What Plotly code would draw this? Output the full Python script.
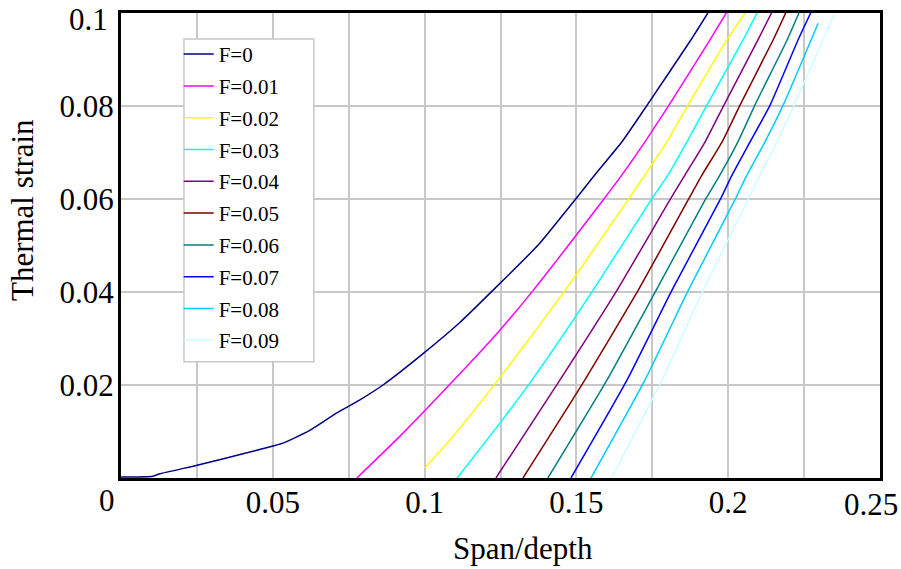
import plotly.graph_objects as go

labels = ["F=0", "F=0.01", "F=0.02", "F=0.03", "F=0.04", "F=0.05", "F=0.06", "F=0.07", "F=0.08", "F=0.09"]
colors = ["#000080", "#FF00FF", "#FFFF00", "#00FFFF", "#800080", "#800000", "#008080", "#0000FF", "#00CCFF", "#CCFFFF"]

f00_x = [0, 0.0013, 0.0105, 0.0128, 0.0254, 0.0402, 0.0501, 0.0534, 0.0623, 0.0711, 0.0787, 0.0863, 0.0998, 0.1117, 0.1224, 0.1374, 0.1495, 0.1561, 0.1650, 0.1733, 0.1877, 0.1933]
f00_y = [0.0002, 0.0002, 0.0004, 0.0009, 0.0028, 0.0052, 0.0069, 0.0075, 0.0103, 0.0140, 0.0168, 0.0200, 0.0269, 0.0335, 0.0403, 0.0501, 0.0598, 0.0652, 0.0723, 0.0802, 0.0942, 0.1000]
f01_x = [0.0777, 0.0919, 0.1084, 0.1248, 0.1357, 0.1588, 0.1650, 0.1726, 0.1805, 0.1940, 0.1999]
f01_y = [0.0, 0.0090, 0.0202, 0.0318, 0.0403, 0.0598, 0.0652, 0.0723, 0.0802, 0.0942, 0.1006]
f02_x = [0.1001, 0.1084, 0.1242, 0.1462, 0.1670, 0.1726, 0.1798, 0.1868, 0.1996, 0.2062]
f02_y = [0.0022, 0.0082, 0.0211, 0.0403, 0.0598, 0.0652, 0.0723, 0.0802, 0.0942, 0.1006]
f03_x = [0.1107, 0.1248, 0.1354, 0.1554, 0.1746, 0.1802, 0.1864, 0.1930, 0.2049, 0.2095]
f03_y = [0.0, 0.0118, 0.0211, 0.0403, 0.0598, 0.0652, 0.0723, 0.0802, 0.0942, 0.1000]
f04_x = [0.1235, 0.1446, 0.1633, 0.1808, 0.1858, 0.1924, 0.1986, 0.2098, 0.2144]
f04_y = [0.0, 0.0211, 0.0403, 0.0598, 0.0652, 0.0723, 0.0802, 0.0942, 0.1002]
f05_x = [0.1324, 0.1528, 0.1703, 0.1868, 0.1914, 0.1980, 0.2039, 0.2148, 0.2197]
f05_y = [0.0, 0.0211, 0.0403, 0.0598, 0.0652, 0.0723, 0.0802, 0.0942, 0.1011]
f06_x = [0.1406, 0.1601, 0.1762, 0.1924, 0.1973, 0.2032, 0.2088, 0.2194, 0.2233]
f06_y = [0.0, 0.0211, 0.0403, 0.0598, 0.0652, 0.0723, 0.0802, 0.0942, 0.1000]
f07_x = [0.1482, 0.1667, 0.1814, 0.1973, 0.2013, 0.2072, 0.2138, 0.2230, 0.2273]
f07_y = [0.0, 0.0211, 0.0403, 0.0598, 0.0652, 0.0723, 0.0802, 0.0942, 0.1002]
f08_x = [0.1548, 0.1726, 0.1868, 0.2022, 0.2062, 0.2121, 0.2181, 0.2273, 0.2296]
f08_y = [0.0, 0.0211, 0.0403, 0.0598, 0.0652, 0.0723, 0.0802, 0.0942, 0.0978]
f09_x = [0.1601, 0.1782, 0.1917, 0.2065, 0.2105, 0.2161, 0.2217, 0.2312, 0.2348]
f09_y = [-0.0019, 0.0211, 0.0403, 0.0598, 0.0652, 0.0723, 0.0802, 0.0942, 0.0996]

xs = [f00_x, f01_x, f02_x, f03_x, f04_x, f05_x, f06_x, f07_x, f08_x, f09_x]
ys = [f00_y, f01_y, f02_y, f03_y, f04_y, f05_y, f06_y, f07_y, f08_y, f09_y]

x_tickvals = [0.05, 0.1, 0.15, 0.2]
x_ticktext = ["0.05", "0.1", "0.15", "0.2"]
y_tickvals = [0.02, 0.04, 0.06, 0.08]
y_ticktext = ["0.02", "0.04", "0.06", "0.08"]

FONT = "Liberation Serif"

fig = go.Figure()
for i in range(len(labels)):
    fig.add_trace(go.Scatter(
        x=xs[i], y=ys[i], mode="lines", name=labels[i],
        legendgroup=labels[i],
        line=dict(color=colors[i], width=1.5, shape="spline", smoothing=0.5),
    ))

fig.update_layout(
    width=901, height=569,
    margin=dict(l=121, r=21, t=13, b=91),
    paper_bgcolor="white", plot_bgcolor="white",
    font=dict(family=FONT, size=31, color="black"),
    showlegend=True,
    legend=dict(
        x=0.076, y=0.955, xanchor="left", yanchor="top",
        bgcolor="rgba(0,0,0,0)", borderwidth=0,
        font=dict(family=FONT, size=21, color="black"),
        tracegroupgap=1.5,
    ),
    xaxis=dict(
        range=[0, 0.25], tickvals=x_tickvals, ticktext=x_ticktext,
        showgrid=True, gridcolor="#C8C8C8", gridwidth=1.5,
        minor=dict(dtick=0.025, tick0=0, showgrid=True, gridcolor="#C8C8C8", gridwidth=1.5),
        showline=True, linecolor="black", linewidth=3, mirror=True,
        ticks="", zeroline=False, automargin=False, ticklabelstandoff=-5,
        tickfont=dict(family=FONT, size=31),
    ),
    yaxis=dict(
        range=[0, 0.1], tickvals=y_tickvals, ticktext=y_ticktext,
        showgrid=True, gridcolor="#C8C8C8", gridwidth=1.5,
        showline=True, linecolor="black", linewidth=3, mirror=True,
        ticks="", zeroline=False, automargin=False, ticklabelstandoff=-2,
        tickfont=dict(family=FONT, size=31),
    ),
    shapes=[dict(
        type="rect", xref="paper", yref="paper",
        x0=0.083, x1=0.254, y0=0.250, y1=0.944,
        line=dict(color="#C8C8C8", width=1.5), fillcolor="white", layer="above",
    )],
    annotations=[
        dict(text="Span/depth", xref="paper", yref="paper", x=0.53, y=-0.151,
             xanchor="center", yanchor="middle", showarrow=False,
             font=dict(family=FONT, size=31)),
        dict(text="Thermal strain", xref="paper", yref="paper", x=-0.13, y=0.577,
             xanchor="center", yanchor="middle", showarrow=False, textangle=-90,
             font=dict(family=FONT, size=31)),
        dict(text="0", xref="paper", yref="paper", x=-0.018, y=-0.048,
             xanchor="center", yanchor="middle", showarrow=False,
             font=dict(family=FONT, size=31)),
        dict(text="0.25", xref="paper", yref="paper", x=0.988, y=-0.056,
             xanchor="center", yanchor="middle", showarrow=False,
             font=dict(family=FONT, size=31)),
        dict(text="0.1", xref="paper", yref="paper", x=-0.014, y=0.985,
             xanchor="right", yanchor="middle", showarrow=False,
             font=dict(family=FONT, size=31)),
    ],
)

fig.write_html("out.html", config={"displayModeBar": False},
               post_script="document.body.style.margin='0px';")
